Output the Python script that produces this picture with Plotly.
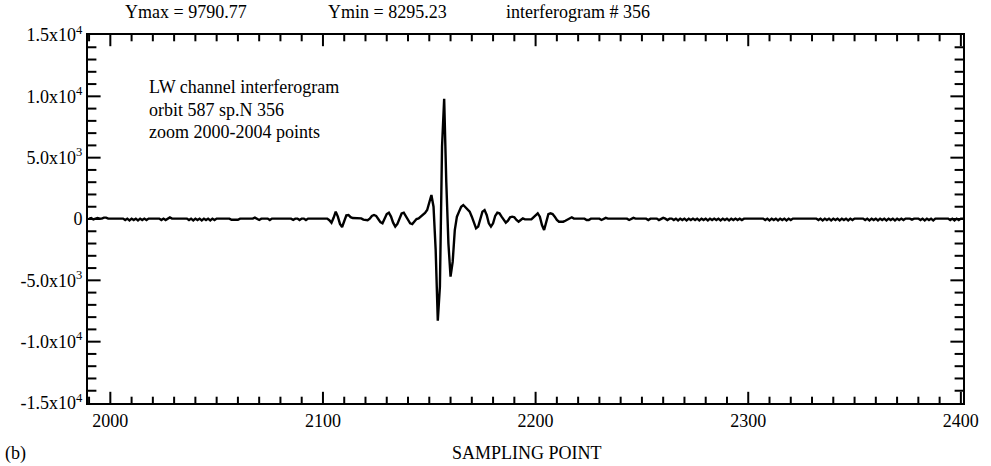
import plotly.graph_objects as go

# ---------------- data ----------------
sample_first = 1990
sample_last = 2401
signal = [
    30, 80, -40, 30, 90, 30, 30, 110, 110, 30,             # 1990
    30, 30, 30, 30, 30, 30, 30, -90, 30, -110,             # 2000
    30, -90, 30, -110, 30, -90, 30, -90, 30, 30,           # 2010
    30, 30, 30, 30, -90, 30, -90, 30, 130, 30,             # 2020
    30, 30, 30, 30, 30, 30, 30, -90, 30, -110,             # 2030
    30, -90, 30, -110, 30, -90, 30, -110, 30, -90,         # 2040
    30, 30, 30, 30, 30, 30, 30, -60, -60, -60,             # 2050
    -60, 30, 30, 30, 30, 30, 30, 30, 110, 30,              # 2060
    -80, 30, 30, 30, 30, -90, 30, 30, 30, 30,              # 2070
    30, 30, 30, 30, 30, 30, -70, 30, 30, -90,              # 2080
    30, 30, -90, 30, 30, 30, 30, 30, 30, 30,               # 2090
    30, 30, 30, -100, -300, 100, 600, 200, -400, -650,     # 2100
    -100, 300, 330, 150, 80, 80, 80, 80, 50, -50,          # 2110
    -100, -100, 30, 250, 330, 250, 0, -250, -350, 0,       # 2120
    400, 510, 200, -300, -620, -400, 100, 450, 510, 200,   # 2130
    -150, -350, -410, -200, 0, 50, 200, 330, 500, 730,     # 2140
    1300, 1960, 1000, -2500, -8295, -5500, 5900, 9791, 3000, -2000,  # 2150
    -4700, -3500, -900, 190, 600, 1000, 1140, 940, 730, 600,         # 2160
    190, -350, -760, -620, 50, 600, 730, 330, -350, -620,  # 2170
    -350, 250, 510, 460, 190, -80, -300, -140, 140, 190,   # 2180
    140, -80, -220, -80, 50, -30, -30, -30, -30, 140,      # 2190
    330, 460, 190, -490, -900, -220, 400, 460, 400, 190,   # 2200
    -80, -220, -220, -220, -140, -30, 50, 140, 30, 30,     # 2210
    30, 30, 30, 30, -80, -80, 30, 30, 30, 30,              # 2220
    30, -80, 30, 90, 30, 30, 30, 30, 30, 30,               # 2230
    30, 30, 90, 30, -80, 30, 90, 30, 30, 30,               # 2240
    30, 90, 30, -80, 30, 30, 30, 30, -90, 30,              # 2250
    90, 30, -80, 30, 30, -90, 30, -110, 30, -90,           # 2260
    30, -110, 30, -90, 30, -90, 30, -110, 30, -90,         # 2270
    30, -110, 30, -90, 30, -90, 30, -110, 30, -90,         # 2280
    30, -110, 30, -90, 30, -90, 30, -80, 30, 30,           # 2290
    30, 30, 30, 30, 30, 30, 30, 30, -90, 30,               # 2300
    -110, 30, -90, 30, -110, 30, -90, 30, -110, 30,        # 2310
    -90, 30, 30, 30, 30, 30, 30, 30, 30, 30,               # 2320
    30, 30, 30, -90, 30, -110, 30, -90, 30, -110,          # 2330
    30, -90, 30, -110, 30, -90, 30, -110, 30, -90,         # 2340
    30, 30, 30, 30, 30, -90, 30, -110, 30, -90,            # 2350
    30, -110, 30, -90, 30, -110, 30, -90, 30, -110,        # 2360
    30, -90, 30, -90, 30, 30, 30, -50, 30, 30,             # 2370
    30, -90, 30, -110, 30, -90, 30, -110, 30, 30,          # 2380
    30, 30, 30, 30, 30, -90, 30, -110, 30, -90,            # 2390
    30, 30,                                                # 2400
]
sampling_points = list(range(sample_first, sample_last + 1))

x_tick_vals = [2000, 2100, 2200, 2300, 2400]
y_tick_vals = [15000, 10000, 5000, 0, -5000, -10000, -15000]
y_tick_text = ["1.5x10<sup>4</sup>", "1.0x10<sup>4</sup>", "5.0x10<sup>3</sup>", "0",
               "-5.0x10<sup>3</sup>", "-1.0x10<sup>4</sup>", "-1.5x10<sup>4</sup>"]
x_minor_step = 10
y_minor_step = 1000

header_texts = ["Ymax = 9790.77", "Ymin = 8295.23", "interferogram # 356"]
info_lines = ["LW channel interferogram", "orbit 587 sp.N 356", "zoom 2000-2004 points"]
x_title = "SAMPLING POINT"
panel_label = "(b)"

# ---------------- figure ----------------
FONT = "Liberation Serif"
FS = 18
X_RANGE = [1989.5, 2401]
Y_RANGE = [-15000, 15000]
W, H = 991, 466
M = dict(l=88, r=16, t=35, b=63)

fig = go.Figure()
fig.add_trace(go.Scatter(x=sampling_points, y=signal, mode="lines",
                         line=dict(color="black", width=2.4), showlegend=False,
                         hoverinfo="skip"))

# tick positions along the frame (inside ticks on all four sides)
x_minor = [v for v in range(1990, int(X_RANGE[1]) + 1, x_minor_step) if v not in x_tick_vals]
y_minor = [v for v in range(Y_RANGE[0] + y_minor_step, Y_RANGE[1], y_minor_step)
           if v not in y_tick_vals]
y_major = [v for v in y_tick_vals if Y_RANGE[0] < v < Y_RANGE[1]]


def tick_trace(xs, ys, symbol, size):
    return go.Scatter(x=xs, y=ys, mode="markers", cliponaxis=True, showlegend=False,
                      hoverinfo="skip",
                      marker=dict(symbol=symbol, size=size, color="black",
                                  line=dict(color="black", width=2)))


for edge in (Y_RANGE[0], Y_RANGE[1]):
    fig.add_trace(tick_trace(x_minor, [edge] * len(x_minor), "line-ns-open", 9))
    fig.add_trace(tick_trace(x_tick_vals, [edge] * len(x_tick_vals), "line-ns-open", 16))
for edge in (X_RANGE[0], X_RANGE[1]):
    fig.add_trace(tick_trace([edge] * len(y_minor), y_minor, "line-ew-open", 12))
    fig.add_trace(tick_trace([edge] * len(y_major), y_major, "line-ew-open", 18))

tick_font = dict(family=FONT, size=FS, color="black")
fig.update_xaxes(range=X_RANGE, tickvals=x_tick_vals, ticks="", showline=True,
                 linewidth=2, linecolor="black", mirror=True, showgrid=False,
                 zeroline=False, tickfont=tick_font)
fig.update_yaxes(range=Y_RANGE, tickvals=y_tick_vals, ticktext=y_tick_text, ticks="",
                 showline=True, linewidth=2, linecolor="black", mirror=True,
                 showgrid=False, zeroline=False, tickfont=tick_font)

annotations = []
for txt, xp in zip(header_texts, [0.0395, 0.2717, 0.4758]):
    annotations.append(dict(text=txt, x=xp, y=1.0625, xref="paper", yref="paper",
                            xanchor="left", yanchor="middle", showarrow=False,
                            font=dict(family=FONT, size=FS, color="black")))
for txt, yp in zip(info_lines, [0.8587, 0.7962, 0.7364]):
    annotations.append(dict(text=txt, x=0.0676, y=yp, xref="paper", yref="paper",
                            xanchor="left", yanchor="middle", showarrow=False,
                            font=dict(family=FONT, size=FS, color="black")))
annotations.append(dict(text=x_title, x=0.5017, y=-0.1359, xref="paper", yref="paper",
                        xanchor="center", yanchor="middle", showarrow=False,
                        font=dict(family=FONT, size=FS, color="black")))
annotations.append(dict(text=panel_label, x=-0.097, y=-0.1359, xref="paper", yref="paper",
                        xanchor="left", yanchor="middle", showarrow=False,
                        font=dict(family=FONT, size=FS, color="black")))

fig.update_layout(width=W, height=H, margin=M,
                  paper_bgcolor="white", plot_bgcolor="white",
                  annotations=annotations)

fig.write_html("out.html")
